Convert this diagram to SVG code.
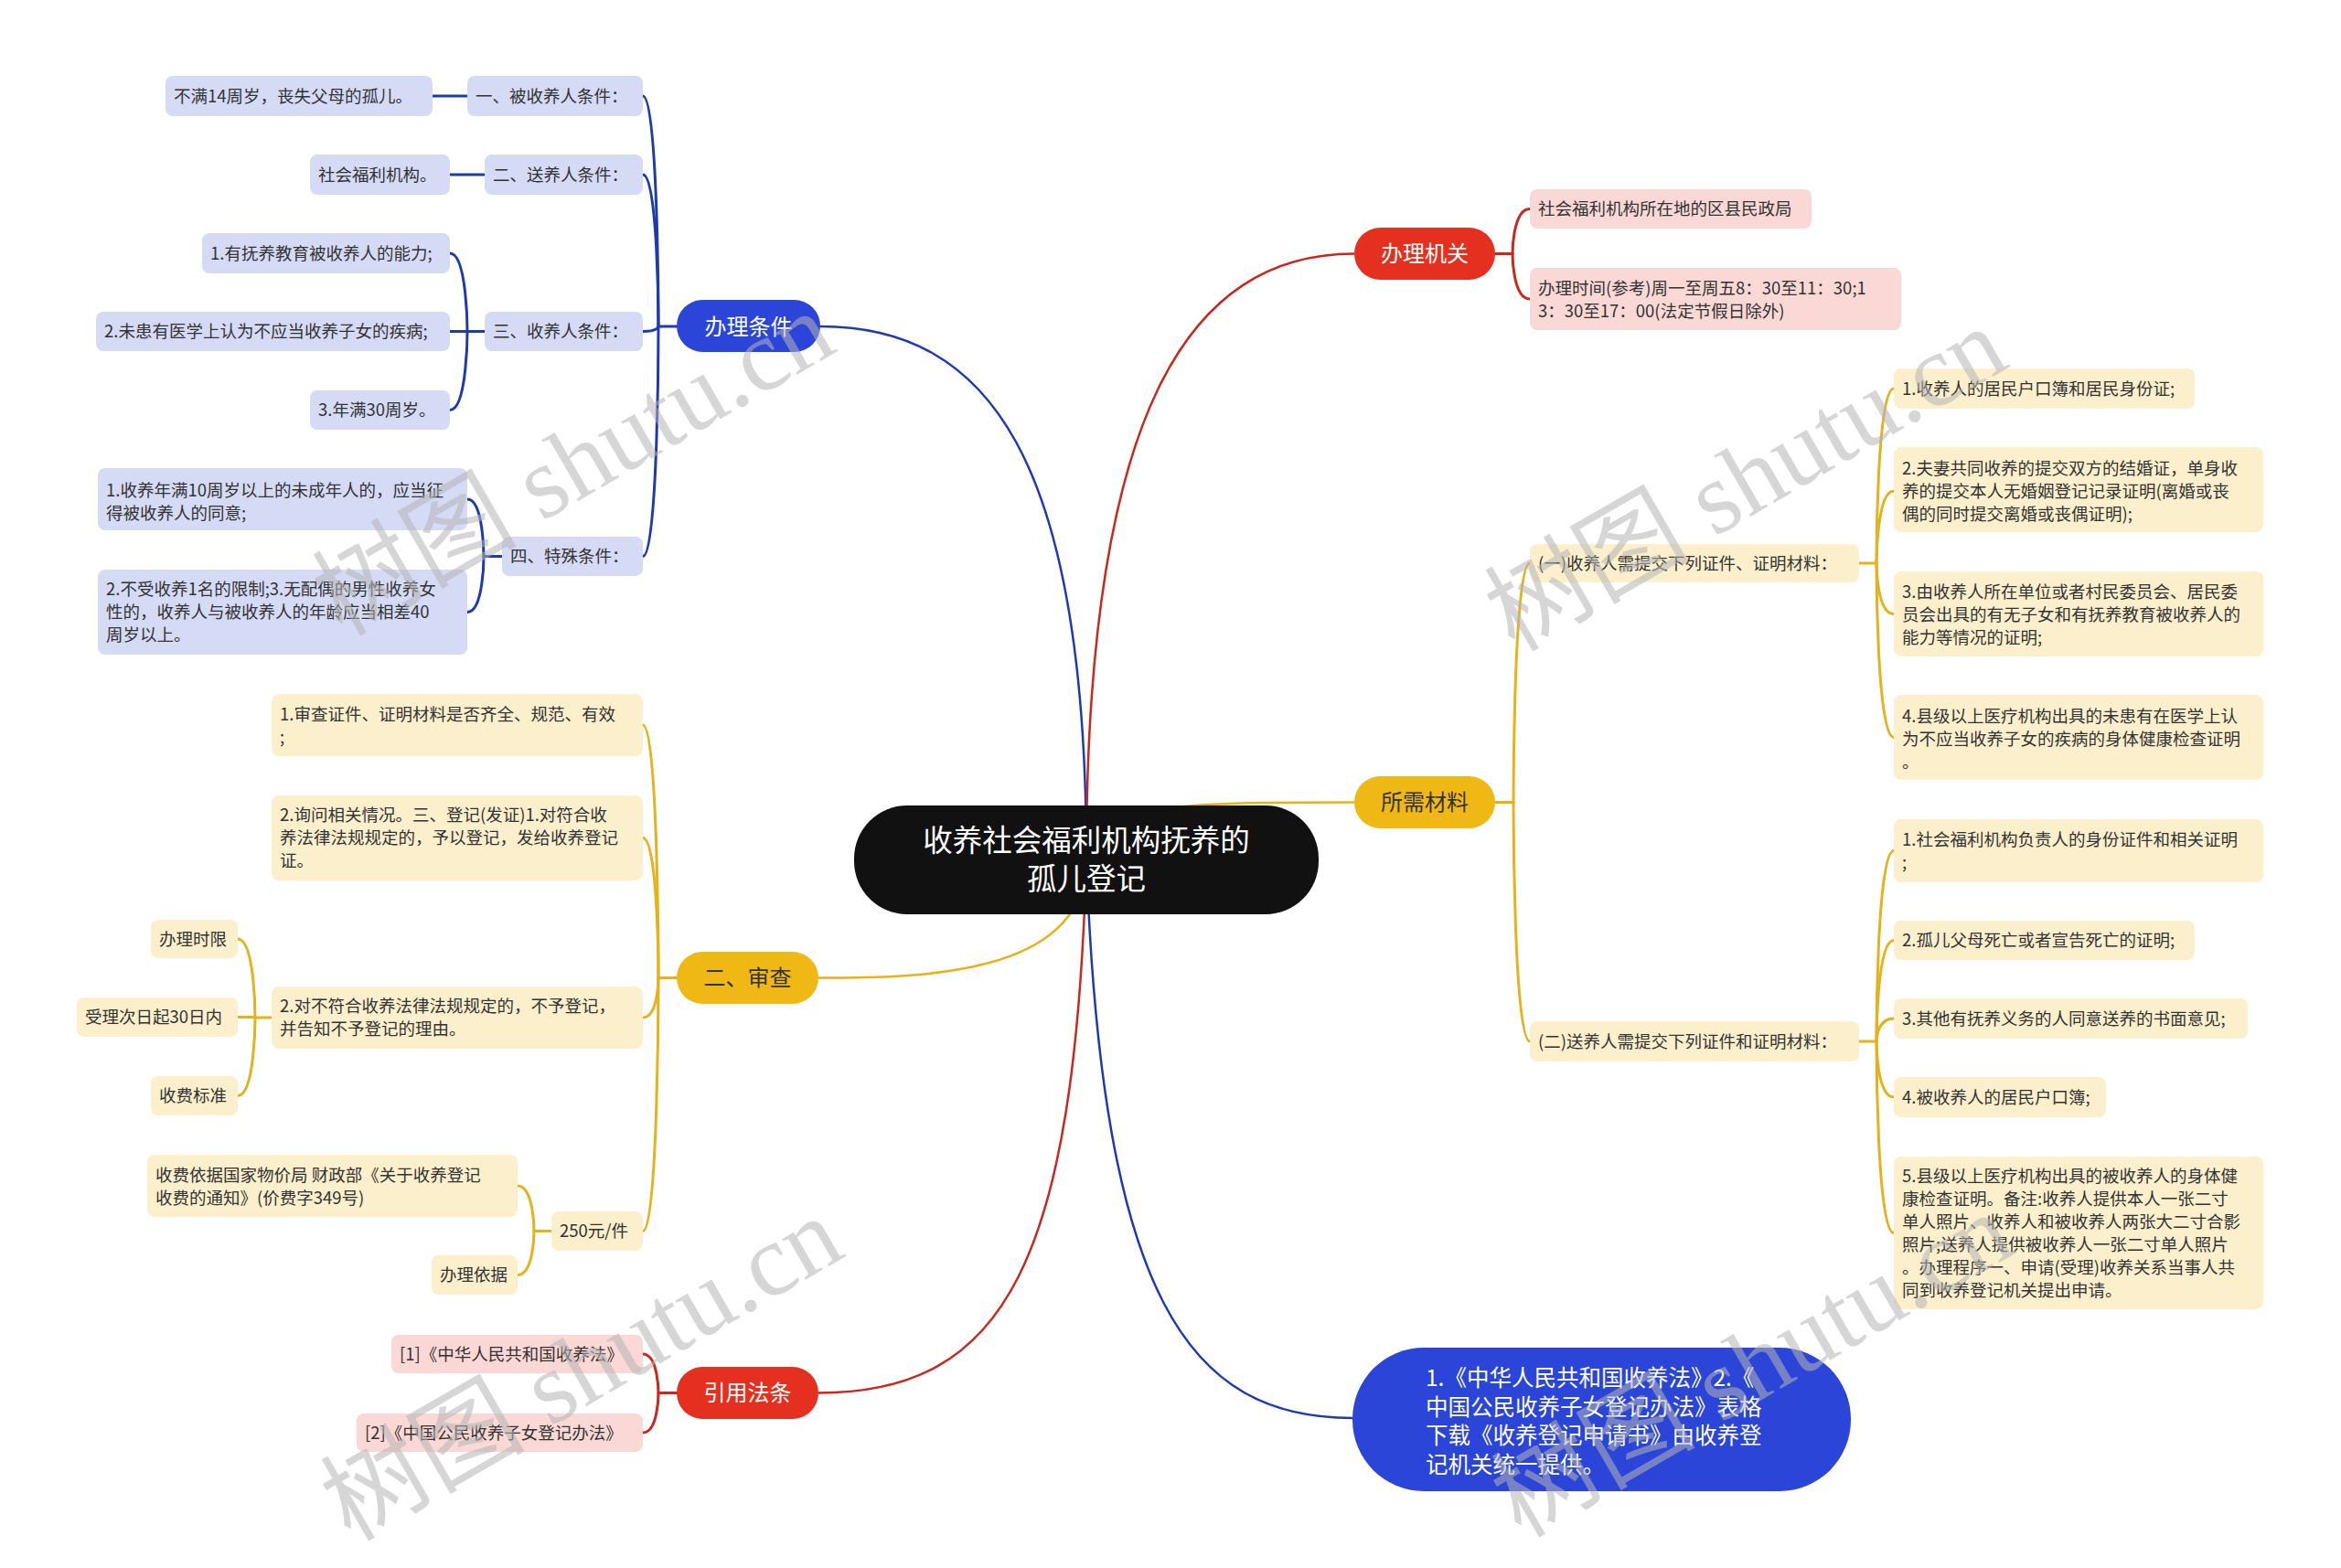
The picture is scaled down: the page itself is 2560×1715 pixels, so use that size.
<svg xmlns="http://www.w3.org/2000/svg" width="2560" height="1715" viewBox="0 0 2560 1715">
<style>
.bg{fill:#ffffff}
.lb{fill:#D5DAF5}
.lr{fill:#FAD8D6}
.ly{fill:#FCEFCC}
.t{font-family:"Noto Sans CJK SC","Liberation Sans",sans-serif;font-size:18.5px;fill:#333333}
.mt{font-family:"Noto Sans CJK SC","Liberation Sans",sans-serif;font-size:24px;fill:#ffffff;text-anchor:middle}
.c{fill:none;stroke-width:3;stroke-linecap:round}
.rc{fill:none;stroke-width:2.5}
.cb{stroke:#1F3AB0}
.cr{stroke:#C9281E}
.cy{stroke:#E5B21A}
.wm{font-family:"Liberation Serif","Noto Sans CJK SC",serif;font-size:112px;fill:#b4b4b4;fill-opacity:0.55;text-anchor:middle}
</style>
<rect class="bg" x="0" y="0" width="2560" height="1715"/>

<g id="connectors">
  <!-- root connectors -->
  <path class="rc cb" d="M1188,940 C1188,500 1080,357 897,357"/>
  <path class="rc cr" d="M1188,940 C1188,450 1300,277.5 1481,277.5"/>
  <path class="rc cy" d="M1188,940 C1188,877.5 1300,877.5 1481,877.5"/>
  <path class="rc cy" d="M1188,940 C1188,1069.5 1000,1069.5 895,1069.5"/>
  <path class="rc cr" d="M1188,940 C1175,1380 1100,1523.5 895,1523.5"/>
  <path class="rc cb" d="M1188,940 C1205,1420 1300,1551 1479,1551"/>

  <!-- 办理条件 -->
  <path class="c cb" d="M720,357 H740"/>
  <path class="c cb" d="M703,105 C720,105 720,357 720,357"/>
  <path class="c cb" d="M703,191 C720,191 720,357 720,357"/>
  <path class="c cb" d="M703,362.5 C720,362.5 720,357 720,357"/>
  <path class="c cb" d="M703,608.5 C720,608.5 720,357 720,357"/>
  <path class="c cb" d="M473,105 H511"/>
  <path class="c cb" d="M492,191 H530"/>
  <path class="c cb" d="M511,362.5 H530"/>
  <path class="c cb" d="M492,277 C511,277 511,362.5 511,362.5"/>
  <path class="c cb" d="M492,362.5 H511"/>
  <path class="c cb" d="M492,448.5 C511,448.5 511,362.5 511,362.5"/>
  <path class="c cb" d="M529,608.5 H549"/>
  <path class="c cb" d="M511,546 C529,546 529,608.5 529,608.5"/>
  <path class="c cb" d="M511,669.5 C529,669.5 529,608.5 529,608.5"/>

  <!-- 二、审查 -->
  <path class="c cy" d="M720,1069.5 H740"/>
  <path class="c cy" d="M703,793 C720,793 720,1069.5 720,1069.5"/>
  <path class="c cy" d="M703,916.5 C720,916.5 720,1069.5 720,1069.5"/>
  <path class="c cy" d="M703,1113 C720,1113 720,1069.5 720,1069.5"/>
  <path class="c cy" d="M703,1346.5 C720,1346.5 720,1069.5 720,1069.5"/>
  <path class="c cy" d="M279,1113 H297"/>
  <path class="c cy" d="M260,1027 C279,1027 279,1113 279,1113"/>
  <path class="c cy" d="M260,1112.5 H279"/>
  <path class="c cy" d="M260,1198.5 C279,1198.5 279,1113 279,1113"/>
  <path class="c cy" d="M584,1346.5 H603"/>
  <path class="c cy" d="M566,1297 C584,1297 584,1346.5 584,1346.5"/>
  <path class="c cy" d="M566,1394.5 C584,1394.5 584,1346.5 584,1346.5"/>

  <!-- 引用法条 -->
  <path class="c cr" d="M720,1523.5 H740"/>
  <path class="c cr" d="M703,1481 C720,1481 720,1523.5 720,1523.5"/>
  <path class="c cr" d="M703,1567 C720,1567 720,1523.5 720,1523.5"/>

  <!-- 办理机关 -->
  <path class="c cr" d="M1635,277.5 H1654"/>
  <path class="c cr" d="M1673,228.5 C1654,228.5 1654,277.5 1654,277.5"/>
  <path class="c cr" d="M1673,327 C1654,327 1654,277.5 1654,277.5"/>

  <!-- 所需材料 -->
  <path class="c cy" d="M1635,877.5 H1655"/>
  <path class="c cy" d="M1673,616 C1655,616 1655,877.5 1655,877.5"/>
  <path class="c cy" d="M1673,1139 C1655,1139 1655,877.5 1655,877.5"/>
  <path class="c cy" d="M2033,616 H2052"/>
  <path class="c cy" d="M2071,425 C2052,425 2052,616 2052,616"/>
  <path class="c cy" d="M2071,537 C2052,537 2052,616 2052,616"/>
  <path class="c cy" d="M2071,671.5 C2052,671.5 2052,616 2052,616"/>
  <path class="c cy" d="M2071,806.5 C2052,806.5 2052,616 2052,616"/>
  <path class="c cy" d="M2033,1139 H2052"/>
  <path class="c cy" d="M2071,930.5 C2052,930.5 2052,1139 2052,1139"/>
  <path class="c cy" d="M2071,1028.5 C2052,1028.5 2052,1139 2052,1139"/>
  <path class="c cy" d="M2071,1114 C2052,1114 2052,1139 2052,1139"/>
  <path class="c cy" d="M2071,1200 C2052,1200 2052,1139 2052,1139"/>
  <path class="c cy" d="M2071,1348.5 C2052,1348.5 2052,1139 2052,1139"/>
</g>

<g id="root">
  <rect x="934" y="881" width="508" height="119" rx="58" fill="#111111"/>
  <text x="1188" y="931" font-family="'Noto Sans CJK SC','Liberation Sans',sans-serif" font-size="32.5" fill="#ffffff" text-anchor="middle">收养社会福利机构抚养的</text>
  <text x="1188" y="973" font-family="'Noto Sans CJK SC','Liberation Sans',sans-serif" font-size="32.5" fill="#ffffff" text-anchor="middle">孤儿登记</text>
</g>

<!-- 办理条件 branch -->
<g id="n-banlitiaojian">
  <rect x="740" y="328" width="157" height="57" rx="28.5" fill="#2A45D8"/>
  <text class="mt" x="818.5" y="365.5">办理条件</text>
</g>
<g id="n-bei"><rect class="lb" x="511" y="83" width="192" height="44" rx="8"/><text class="t" x="520" y="111.5">一、被收养人条件：</text></g>
<g id="n-bei-1"><rect class="lb" x="181" y="83" width="292" height="44" rx="8"/><text class="t" x="190" y="111.5">不满14周岁，丧失父母的孤儿。</text></g>
<g id="n-song"><rect class="lb" x="530" y="169" width="173" height="44" rx="8"/><text class="t" x="539" y="197.5">二、送养人条件：</text></g>
<g id="n-song-1"><rect class="lb" x="339" y="169" width="153" height="44" rx="8"/><text class="t" x="348" y="197.5">社会福利机构。</text></g>
<g id="n-shou"><rect class="lb" x="530" y="341" width="173" height="43" rx="8"/><text class="t" x="539" y="369">三、收养人条件：</text></g>
<g id="n-shou-1"><rect class="lb" x="221" y="255" width="271" height="44" rx="8"/><text class="t" x="230" y="283.5">1.有抚养教育被收养人的能力;</text></g>
<g id="n-shou-2"><rect class="lb" x="105" y="341" width="387" height="43" rx="8"/><text class="t" x="114" y="369">2.未患有医学上认为不应当收养子女的疾病;</text></g>
<g id="n-shou-3"><rect class="lb" x="339" y="427" width="153" height="43" rx="8"/><text class="t" x="348" y="455">3.年满30周岁。</text></g>
<g id="n-te"><rect class="lb" x="549" y="587" width="154" height="43" rx="8"/><text class="t" x="558" y="615">四、特殊条件：</text></g>
<g id="n-te-1"><rect class="lb" x="107" y="512" width="404" height="68" rx="8"/>
  <text class="t" x="116" y="543">1.收养年满10周岁以上的未成年人的，应当征</text>
  <text class="t" x="116" y="568">得被收养人的同意;</text></g>
<g id="n-te-2"><rect class="lb" x="107" y="623" width="404" height="93" rx="8"/>
  <text class="t" x="116" y="651">2.不受收养1名的限制;3.无配偶的男性收养女</text>
  <text class="t" x="116" y="676">性的，收养人与被收养人的年龄应当相差40</text>
  <text class="t" x="116" y="701">周岁以上。</text></g>

<!-- 二、审查 branch -->
<g id="n-shencha">
  <rect x="740" y="1041" width="155" height="57" rx="28.5" fill="#EFB814"/>
  <text class="mt" x="817.5" y="1078" style="fill:#333333">二、审查</text>
</g>
<g id="n-sc-1"><rect class="ly" x="297" y="759" width="406" height="68" rx="8"/>
  <text class="t" x="306" y="788">1.审查证件、证明材料是否齐全、规范、有效</text>
  <text class="t" x="306" y="813">;</text></g>
<g id="n-sc-2"><rect class="ly" x="297" y="870" width="406" height="93" rx="8"/>
  <text class="t" x="306" y="898">2.询问相关情况。三、登记(发证)1.对符合收</text>
  <text class="t" x="306" y="923">养法律法规规定的，予以登记，发给收养登记</text>
  <text class="t" x="306" y="948">证。</text></g>
<g id="n-sc-3"><rect class="ly" x="297" y="1079" width="406" height="68" rx="8"/>
  <text class="t" x="306" y="1107">2.对不符合收养法律法规规定的，不予登记，</text>
  <text class="t" x="306" y="1132">并告知不予登记的理由。</text></g>
<g id="n-sc-3a"><rect class="ly" x="165" y="1006" width="95" height="42" rx="8"/><text class="t" x="174" y="1033.5">办理时限</text></g>
<g id="n-sc-3b"><rect class="ly" x="84" y="1091" width="176" height="43" rx="8"/><text class="t" x="93" y="1119">受理次日起30日内</text></g>
<g id="n-sc-3c"><rect class="ly" x="165" y="1177" width="95" height="43" rx="8"/><text class="t" x="174" y="1205">收费标准</text></g>
<g id="n-sc-4"><rect class="ly" x="603" y="1325" width="100" height="43" rx="8"/><text class="t" x="612" y="1353">250元/件</text></g>
<g id="n-sc-4a"><rect class="ly" x="161" y="1263" width="405" height="68" rx="8"/>
  <text class="t" x="170" y="1291.5">收费依据国家物价局 财政部《关于收养登记</text>
  <text class="t" x="170" y="1316.5">收费的通知》(价费字349号)</text></g>
<g id="n-sc-4b"><rect class="ly" x="472" y="1373" width="94" height="43" rx="8"/><text class="t" x="481" y="1401">办理依据</text></g>

<!-- 引用法条 branch -->
<g id="n-fatiao">
  <rect x="740" y="1495" width="155" height="57" rx="28.5" fill="#E5301F"/>
  <text class="mt" x="817.5" y="1532">引用法条</text>
</g>
<g id="n-ft-1"><rect class="lr" x="428" y="1460" width="275" height="42" rx="8"/><text class="t" x="437" y="1487.5">[1]《中华人民共和国收养法》</text></g>
<g id="n-ft-2"><rect class="lr" x="390" y="1546" width="313" height="42" rx="8"/><text class="t" x="399" y="1573.5">[2]《中国公民收养子女登记办法》</text></g>

<!-- 办理机关 branch -->
<g id="n-jiguan">
  <rect x="1481" y="249" width="154" height="57" rx="28.5" fill="#E5301F"/>
  <text class="mt" x="1558" y="286">办理机关</text>
</g>
<g id="n-jg-1"><rect class="lr" x="1673" y="207" width="308" height="43" rx="8"/><text class="t" x="1682" y="235">社会福利机构所在地的区县民政局</text></g>
<g id="n-jg-2"><rect class="lr" x="1673" y="293" width="406" height="68" rx="8"/>
  <text class="t" x="1682" y="321.5">办理时间(参考)周一至周五8：30至11：30;1</text>
  <text class="t" x="1682" y="346.5">3：30至17：00(法定节假日除外)</text></g>

<!-- 所需材料 branch -->
<g id="n-cailiao">
  <rect x="1481" y="849" width="154" height="57" rx="28.5" fill="#EFB814"/>
  <text class="mt" x="1558" y="886" style="fill:#333333">所需材料</text>
</g>
<g id="n-cl-1"><rect class="ly" x="1673" y="595" width="360" height="42" rx="8"/><text class="t" x="1682" y="622.5">(一)收养人需提交下列证件、证明材料：</text></g>
<g id="n-cl-1a"><rect class="ly" x="2071" y="403" width="329" height="44" rx="8"/><text class="t" x="2080" y="431.5">1.收养人的居民户口簿和居民身份证;</text></g>
<g id="n-cl-1b"><rect class="ly" x="2071" y="489" width="404" height="93" rx="8"/>
  <text class="t" x="2080" y="518.5">2.夫妻共同收养的提交双方的结婚证，单身收</text>
  <text class="t" x="2080" y="543.5">养的提交本人无婚姻登记记录证明(离婚或丧</text>
  <text class="t" x="2080" y="568.5">偶的同时提交离婚或丧偶证明);</text></g>
<g id="n-cl-1c"><rect class="ly" x="2071" y="625" width="404" height="93" rx="8"/>
  <text class="t" x="2080" y="653.5">3.由收养人所在单位或者村民委员会、居民委</text>
  <text class="t" x="2080" y="678.5">员会出具的有无子女和有抚养教育被收养人的</text>
  <text class="t" x="2080" y="703.5">能力等情况的证明;</text></g>
<g id="n-cl-1d"><rect class="ly" x="2071" y="760" width="404" height="93" rx="8"/>
  <text class="t" x="2080" y="789.5">4.县级以上医疗机构出具的未患有在医学上认</text>
  <text class="t" x="2080" y="814.5">为不应当收养子女的疾病的身体健康检查证明</text>
  <text class="t" x="2080" y="839.5">。</text></g>
<g id="n-cl-2"><rect class="ly" x="1673" y="1117" width="360" height="44" rx="8"/><text class="t" x="1682" y="1145.5">(二)送养人需提交下列证件和证明材料：</text></g>
<g id="n-cl-2a"><rect class="ly" x="2071" y="896" width="404" height="69" rx="8"/>
  <text class="t" x="2080" y="924.5">1.社会福利机构负责人的身份证件和相关证明</text>
  <text class="t" x="2080" y="949.5">;</text></g>
<g id="n-cl-2b"><rect class="ly" x="2071" y="1007" width="329" height="43" rx="8"/><text class="t" x="2080" y="1035">2.孤儿父母死亡或者宣告死亡的证明;</text></g>
<g id="n-cl-2c"><rect class="ly" x="2071" y="1092" width="387" height="44" rx="8"/><text class="t" x="2080" y="1120.5">3.其他有抚养义务的人同意送养的书面意见;</text></g>
<g id="n-cl-2d"><rect class="ly" x="2071" y="1178" width="232" height="44" rx="8"/><text class="t" x="2080" y="1206.5">4.被收养人的居民户口簿;</text></g>
<g id="n-cl-2e"><rect class="ly" x="2071" y="1265" width="404" height="167" rx="8"/>
  <text class="t" x="2080" y="1292.5">5.县级以上医疗机构出具的被收养人的身体健</text>
  <text class="t" x="2080" y="1317.5">康检查证明。备注:收养人提供本人一张二寸</text>
  <text class="t" x="2080" y="1342.5">单人照片、收养人和被收养人两张大二寸合影</text>
  <text class="t" x="2080" y="1367.5">照片;送养人提供被收养人一张二寸单人照片</text>
  <text class="t" x="2080" y="1392.5">。办理程序一、申请(受理)收养关系当事人共</text>
  <text class="t" x="2080" y="1417.5">同到收养登记机关提出申请。</text></g>

<!-- bottom blue node -->
<g id="n-falv">
  <rect x="1479" y="1474" width="545" height="157" rx="78" fill="#2A45D8"/>
  <text x="1559" y="1516" font-family="'Noto Sans CJK SC','Liberation Sans',sans-serif" font-size="24.5" fill="#ffffff">1.《中华人民共和国收养法》2.《</text>
  <text x="1559" y="1547.5" font-family="'Noto Sans CJK SC','Liberation Sans',sans-serif" font-size="24.5" fill="#ffffff">中国公民收养子女登记办法》表格</text>
  <text x="1559" y="1579" font-family="'Noto Sans CJK SC','Liberation Sans',sans-serif" font-size="24.5" fill="#ffffff">下载《收养登记申请书》由收养登</text>
  <text x="1559" y="1610.5" font-family="'Noto Sans CJK SC','Liberation Sans',sans-serif" font-size="24.5" fill="#ffffff">记机关统一提供。</text>
</g>

<g id="watermarks">
  <text class="wm" transform="translate(646,540) rotate(-30)">树图 shutu.cn</text>
  <text class="wm" transform="translate(1928,557) rotate(-30)">树图 shutu.cn</text>
  <text class="wm" transform="translate(655,1530) rotate(-30)">树图 shutu.cn</text>
  <text class="wm" transform="translate(1935,1526) rotate(-30)">树图 shutu.cn</text>
</g>
</svg>
